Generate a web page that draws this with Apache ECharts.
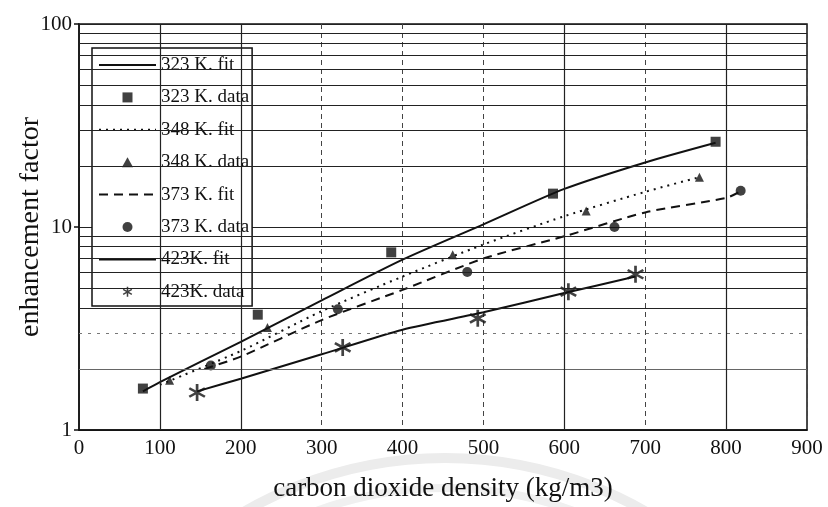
<!DOCTYPE html>
<html>
<head>
<meta charset="utf-8">
<script src="https://cdn.jsdelivr.net/npm/echarts@6/dist/echarts.min.js"></script>
<style>
  html, body { margin: 0; padding: 0; background: #fff; }
  #chart { width: 828px; height: 507px; }
</style>
</head>
<body>
<div id="chart"></div>
<script>
// Enhancement factor vs. CO2 density, four temperatures (log y axis)
const xTicks = [0, 100, 200, 300, 400, 500, 600, 700, 800, 900];
const yTicks = [1, 10, 100];
const minorY = [2, 3, 4, 5, 6, 7, 8, 9, 20, 30, 40, 50, 60, 70, 80, 90];
const solidX = [100, 200, 600, 800];

const data323 = [[79, 1.6], [221, 3.7], [386, 7.5], [586, 14.6], [787, 26.3]];
const fit323 = [[79, 1.55], [100, 1.72], [200, 2.72], [300, 4.35], [400, 6.9], [500, 10.3], [600, 15.4], [700, 20.8], [787, 26.0]];

const data348 = [[112, 1.76], [233, 3.2], [462, 7.3], [627, 12.0], [767, 17.6]];
const fit348 = [[100, 1.67], [200, 2.45], [300, 3.85], [400, 5.7], [500, 8.2], [600, 11.3], [700, 14.9], [767, 17.6]];

const data373 = [[163, 2.08], [320, 3.93], [480, 6.0], [662, 10.0], [818, 15.1]];
const fit373 = [[155, 2.0], [200, 2.3], [300, 3.48], [400, 4.9], [500, 6.99], [600, 9.0], [700, 11.8], [800, 13.9], [818, 15.0]];

const data423 = [[146, 1.53], [326, 2.55], [493, 3.55], [605, 4.8], [688, 5.85]];
const fit423 = [[146, 1.55], [200, 1.79], [300, 2.36], [400, 3.12], [500, 3.8], [600, 4.73], [688, 5.7]];

const SERIF = '"Liberation Serif", "DejaVu Serif", serif';
const INK = '#111';

// marker shapes
const squarePath = 'path://M0,0L10,0L10,10L0,10Z';
const trianglePath = 'path://M5,0L10,9L0,9Z';
const starPath = 'path://M-1.5,-10L1.5,-10L1.5,10L-1.5,10Z' +
  'M7.91,6.3L-9.41,-3.7L-7.91,-6.3L9.41,3.7Z' +
  'M-7.91,6.3L-9.41,3.7L7.91,-6.3L9.41,-3.7Z';

// legend entries: fit lines hide the default marker dot, data entries use their own shape
const legendEntries = [
  { name: '323 K. fit', itemStyle: { opacity: 0 } },
  { name: '323 K. data', icon: squarePath },
  { name: '348 K. fit', itemStyle: { opacity: 0 } },
  { name: '348 K. data', icon: trianglePath },
  { name: '373 K. fit', itemStyle: { opacity: 0 } },
  { name: '373 K. data', icon: 'circle' },
  { name: '423K. fit', itemStyle: { opacity: 0 } },
  { name: '423K. data', icon: starPath }
];

function fitSeries(name, pts, type) {
  return {
    name: name, type: 'line', data: pts, smooth: 0.25,
    symbol: 'none', z: 3,
    lineStyle: { color: INK, width: 2, type: type },
    itemStyle: { color: INK }
  };
}
function dataSeries(name, pts, symbol, size) {
  return {
    name: name, type: 'scatter', data: pts, symbol: symbol, symbolSize: size,
    z: 4, itemStyle: { color: INK }
  };
}

const gridLines = {
  name: 'grid', type: 'line', data: [], z: 1, silent: true,
  markLine: {
    silent: true, symbol: 'none', label: { show: false },
    animation: false,
    data: minorY.map(v => ({
      yAxis: v,
      lineStyle: v === 3
        ? { color: '#777', width: 1, type: [3, 6] }
        : (v === 2 ? { color: '#666', width: 1, type: 'solid' }
                   : { color: '#222', width: 1.2, type: 'solid' })
    })).concat(solidX.map(v => ({
      xAxis: v, lineStyle: { color: '#222', width: 1.2, type: 'solid' }
    })))
  }
};

const chart = echarts.init(document.getElementById('chart'), null, { renderer: 'canvas' });
chart.setOption({
  animation: false,
  backgroundColor: '#fff',
  textStyle: { fontFamily: SERIF, color: INK },
  grid: { left: 79, right: 21, top: 24, bottom: 77, show: true,
          outerBoundsMode: 'none', containLabel: false,
          borderColor: '#111', borderWidth: 1.5, backgroundColor: 'transparent' },
  graphic: [
    { type: 'circle', silent: true, z: -10,
      shape: { cx: 445, cy: 860, r: 402 },
      style: { fill: 'none', stroke: '#ececec', lineWidth: 10 } },
    { type: 'circle', silent: true, z: -10,
      shape: { cx: 445, cy: 860, r: 372 },
      style: { fill: 'none', stroke: '#f0f0f0', lineWidth: 8 } }
  ],
  legend: {
    orient: 'vertical', left: 92, top: 48,
    data: legendEntries,
    backgroundColor: '#fff', borderColor: '#111', borderWidth: 1.5,
    padding: [7.5, 3, 4.7, 6],
    itemWidth: 57, itemHeight: 10, itemGap: 13.4,
    textStyle: { fontFamily: SERIF, fontSize: 19, lineHeight: 19, color: INK }
  },
  xAxis: {
    type: 'value', min: 0, max: 900, interval: 100,
    name: 'carbon dioxide density (kg/m3)', nameLocation: 'middle', nameGap: 45,
    nameMoveOverlap: false,
    nameTextStyle: { fontFamily: SERIF, fontSize: 27, color: INK },
    axisLine: { show: true, lineStyle: { color: '#111', width: 1.5 } },
    axisTick: { show: false },
    axisLabel: { fontFamily: SERIF, fontSize: 21, color: INK, margin: 8,
                 formatter: v => xTicks.includes(v) ? String(v) : '' },
    splitLine: { show: true, lineStyle: { color: '#444', width: 1, type: [5, 4] } }
  },
  yAxis: {
    type: 'log', logBase: 10, min: 1, max: 100,
    name: 'enhancement factor', nameLocation: 'middle', nameGap: 34,
    nameMoveOverlap: false,
    nameTextStyle: { fontFamily: SERIF, fontSize: 28, color: INK },
    axisLine: { show: true, lineStyle: { color: '#111', width: 1.5 } },
    axisTick: { show: true, inside: false, length: 5, lineStyle: { color: '#111', width: 1.5 } },
    axisLabel: { fontFamily: SERIF, fontSize: 21, color: INK, margin: 7,
                 formatter: v => yTicks.includes(Math.round(v)) ? String(Math.round(v)) : '' },
    splitLine: { show: true, lineStyle: { color: '#222', width: 1.2 } }
  },
  series: [
    gridLines,
    fitSeries('323 K. fit', fit323, 'solid'),
    dataSeries('323 K. data', data323, 'rect', 10),
    fitSeries('348 K. fit', fit348, [2, 5]),
    dataSeries('348 K. data', data348, 'triangle', 9),
    fitSeries('373 K. fit', fit373, [9, 6]),
    dataSeries('373 K. data', data373, 'circle', 10),
    fitSeries('423K. fit', fit423, 'solid'),
    dataSeries('423K. data', data423, starPath, 17)
  ]
});
</script>
</body>
</html>
